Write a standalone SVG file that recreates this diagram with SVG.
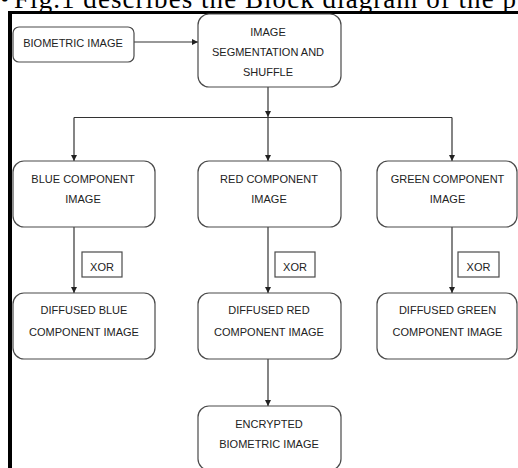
<svg xmlns="http://www.w3.org/2000/svg" width="518" height="468" viewBox="0 0 518 468">
<style>
.box{fill:#fff;stroke:#4a4a4a;stroke-width:1.2}
.t{font-family:"Liberation Sans",Arial,sans-serif;font-size:11px;fill:#222;text-anchor:middle}
.c{fill:none;stroke:#333;stroke-width:1.2}
.cap{font-family:"Liberation Serif","Times New Roman",serif;font-size:27px;fill:#000}
</style>
<defs>
<marker id="ah" viewBox="0 0 10 10" refX="10" refY="5" markerWidth="6" markerHeight="6" markerUnits="userSpaceOnUse" orient="auto">
<path d="M0,0 L10,5 L0,10 z" fill="#222"/>
</marker>
</defs>
<rect width="518" height="468" fill="#fff"/>
<text class="cap" x="0" y="7.5">•</text>
<text class="cap" x="14" y="7.5" textLength="502" lengthAdjust="spacing">Fig.1 describes the Block diagram of the p</text>
<rect x="8" y="11" width="510" height="3" fill="#000"/>
<rect x="8" y="11" width="4" height="457" fill="#000"/>

<g id="connectors">
<path class="c" d="M134,42 H198" marker-end="url(#ah)"/>
<path class="c" d="M268,87 V117" marker-end="url(#ah)"/>
<path class="c" d="M74,117.5 H452"/>
<path class="c" d="M74,117.5 V161" marker-end="url(#ah)"/>
<path class="c" d="M268,117.5 V161" marker-end="url(#ah)"/>
<path class="c" d="M452,117.5 V161" marker-end="url(#ah)"/>
<path class="c" d="M74,227 V293" marker-end="url(#ah)"/>
<path class="c" d="M268,227 V293" marker-end="url(#ah)"/>
<path class="c" d="M452,227 V293" marker-end="url(#ah)"/>
<path class="c" d="M268,359 V406" marker-end="url(#ah)"/>
</g>

<g id="biometric">
<rect class="box" x="13" y="27" width="121" height="35" rx="6"/>
<text class="t" x="73" y="46.5">BIOMETRIC IMAGE</text>
</g>
<g id="segmentation">
<rect class="box" x="198" y="14" width="143" height="73" rx="11"/>
<text class="t" x="268" y="36">IMAGE</text>
<text class="t" x="268" y="56">SEGMENTATION AND</text>
<text class="t" x="268" y="76">SHUFFLE</text>
</g>
<g id="blue">
<rect class="box" x="13" y="161" width="142" height="66" rx="11"/>
<text class="t" x="83" y="183">BLUE COMPONENT</text>
<text class="t" x="83" y="203">IMAGE</text>
</g>
<g id="red">
<rect class="box" x="198" y="161" width="143" height="66" rx="11"/>
<text class="t" x="269" y="183">RED COMPONENT</text>
<text class="t" x="269" y="203">IMAGE</text>
</g>
<g id="green">
<rect class="box" x="377" y="161" width="140" height="66" rx="11"/>
<text class="t" x="447.5" y="183">GREEN COMPONENT</text>
<text class="t" x="447.5" y="203">IMAGE</text>
</g>
<g id="xor-blue">
<rect class="box" x="82" y="252" width="40" height="25"/>
<text class="t" x="102" y="271">XOR</text>
</g>
<g id="xor-red">
<rect class="box" x="275" y="252" width="40" height="25"/>
<text class="t" x="295" y="271">XOR</text>
</g>
<g id="xor-green">
<rect class="box" x="458" y="252" width="41" height="25"/>
<text class="t" x="478.5" y="271">XOR</text>
</g>
<g id="diffused-blue">
<rect class="box" x="13" y="293" width="142" height="66" rx="11"/>
<text class="t" x="84" y="314">DIFFUSED BLUE</text>
<text class="t" x="84" y="335.5">COMPONENT IMAGE</text>
</g>
<g id="diffused-red">
<rect class="box" x="198" y="293" width="143" height="66" rx="11"/>
<text class="t" x="269" y="314">DIFFUSED RED</text>
<text class="t" x="269" y="335.5">COMPONENT IMAGE</text>
</g>
<g id="diffused-green">
<rect class="box" x="377" y="293" width="140" height="66" rx="11"/>
<text class="t" x="447.5" y="314">DIFFUSED GREEN</text>
<text class="t" x="447.5" y="335.5">COMPONENT IMAGE</text>
</g>
<g id="encrypted">
<rect class="box" x="198" y="406" width="143" height="64" rx="11"/>
<text class="t" x="269" y="428">ENCRYPTED</text>
<text class="t" x="269" y="448">BIOMETRIC IMAGE</text>
</g>
</svg>
